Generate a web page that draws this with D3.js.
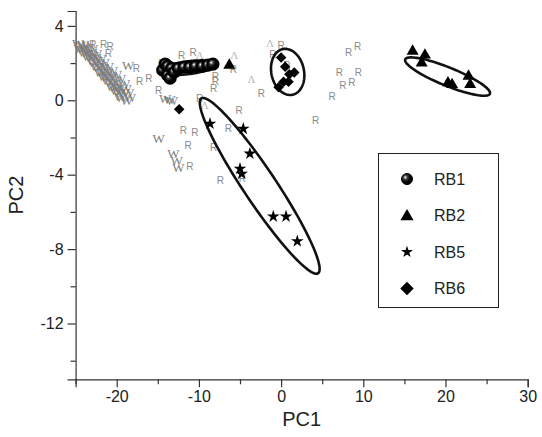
<!DOCTYPE html>
<html>
<head>
<meta charset="utf-8">
<script src="https://cdn.jsdelivr.net/npm/d3@7"></script>
<style>
    body { margin: 0; background: #fff; }
    svg { display: block; font-family: "Liberation Sans", Arial, sans-serif; }
    .gray-text { opacity: 0.99; }
</style>
</head>
<body>
<div id="chart"></div>
<script>
// 坐标轴刻度
const xTicks = [-20, -10, 0, 10, 20, 30];
const xMinor = [-25, -15, -5, 5, 15, 25];
const yTicks = [4, 0, -4, -8, -12];
const yMinor = [2, -2, -6, -10, -14];

// 灰色文字标记 (W / R / Λ)
const wPoints = [
    [-24.7, 3.07], [-24.5, 2.96], [-24.1, 3.02], [-23.9, 2.86], [-24.2, 2.75], [-23.6, 2.80],
    [-23.4, 2.64], [-23.7, 2.53], [-23.1, 2.59], [-22.9, 2.42], [-23.2, 2.32], [-22.6, 2.32],
    [-22.4, 2.16], [-22.8, 2.05], [-22.2, 2.05], [-21.9, 1.89], [-22.3, 1.78], [-21.7, 1.78],
    [-21.4, 1.62], [-21.8, 1.51], [-21.2, 1.51], [-20.9, 1.35], [-21.3, 1.24], [-20.7, 1.24],
    [-20.5, 1.08], [-20.8, 0.97], [-20.2, 0.97], [-20.0, 0.81], [-20.3, 0.70], [-19.7, 0.70],
    [-19.5, 0.54], [-19.8, 0.43], [-19.2, 0.43], [-19.0, 0.27], [-19.4, 0.16], [-18.8, 0.00],
    [-21.6, 2.05], [-21.1, 1.83], [-20.6, 1.62], [-20.1, 1.40], [-19.6, 1.19], [-19.1, 0.92],
    [-22.0, 2.26], [-22.5, 2.53], [-23.0, 2.80], [-23.5, 3.02], [-18.9, 0.65], [-18.4, 0.16],
    [-18.6, 0.43], [-19.6, 0.22], [-20.1, 0.54], [-20.6, 0.75], [-21.1, 1.08], [-21.6, 1.29],
    [-22.0, 1.51], [-22.5, 1.83], [-23.0, 2.16], [-23.5, 2.37], [-24.0, 2.59], [-24.5, 2.80],
    [-18.6, 1.89], [-14.1, 0.10], [-13.6, 0.05], [-13.3, 0.00], [-14.9, -2.06],
    [-13.1, -2.87], [-12.7, -3.23], [-12.5, -3.59]
];
const rPoints = [
    [-22.9, 3.02], [-21.6, 3.02], [-20.8, 2.91], [-21.0, 2.52], [-17.6, 1.71], [-17.2, 0.99],
    [-16.1, 1.17], [-14.9, 0.54], [-14.5, 1.98], [-12.1, 2.42], [-10.7, 2.57], [-8.6, 1.89],
    [-5.8, 1.65], [-8.0, 1.26], [-8.0, 0.99], [-8.2, 0.63], [-9.9, 0.09], [-5.1, -0.55],
    [-11.9, -1.62], [-10.5, -1.71], [-11.3, -2.42], [-6.4, -1.53], [-8.2, -2.52], [-11.1, -3.56],
    [-7.4, -4.31], [-4.7, -4.22], [-2.4, 0.39], [4.2, -1.11], [0.0, 2.96], [-1.0, 2.48],
    [0.7, 1.89], [8.2, 2.55], [9.3, 2.87], [7.1, 1.47], [9.4, 1.47], [7.5, 0.81], [8.6, 0.93],
    [6.2, 0.22]
];
const lambdaPoints = [[-9.9, 2.42], [-5.7, 2.42], [-3.6, 1.11], [-1.35, 3.05], [20.4, 0.99], [-9.3, -0.27]];

// 样品组
const seriesNames = ["RB1", "RB2", "RB5", "RB6"];
const rb1 = [
    [-14.4, 1.62], [-14.1, 1.94], [-13.8, 1.83], [-13.8, 1.35], [-13.5, 1.19], [-13.3, 1.72],
    [-13.0, 1.51], [-12.5, 1.72], [-11.8, 1.78], [-11.1, 1.78], [-10.4, 1.83], [-9.6, 1.83],
    [-8.9, 1.89], [-8.3, 1.94]
];
const rb2 = [[-6.3, 1.94], [16.0, 2.69], [17.5, 2.48], [17.1, 2.06], [20.3, 0.99], [20.8, 0.90], [22.8, 1.35], [23.0, 0.90]];
const rb5 = [[-8.65, -1.26], [-4.6, -1.53], [-3.8, -2.87], [-5.0, -3.68], [-4.8, -3.95], [-0.95, -6.25], [0.6, -6.25], [1.97, -7.58]];
const rb6 = [[-12.4, -0.48], [0.0, 2.3], [0.5, 1.8], [1.0, 1.4], [1.6, 1.5], [0.3, 1.0], [-0.3, 0.7], [0.9, 1.0]];

// 置信椭圆: 长轴两端点 与 短长轴比
const ellipseEnds = [
    [[-14.8, 1.55], [-7.8, 1.95]],
    [[0.2, 2.75], [1.4, 0.3]],
    [[-9.7, 0.1], [4.5, -9.3]],
    [[15.1, 2.2], [25.4, 0.35]]
];
const ellipseRatio = [0.22, 0.7, 0.155, 0.2];

const width = 542, height = 437;
const svg = d3.select("#chart").append("svg").attr("width", width).attr("height", height);

const x = d3.scaleLinear().domain([-25, 30]).range([75.6, 527.7]);
const y = d3.scaleLinear().domain([-15, 4.8]).range([379.3, 11]);

// 渐变 (球形标记)
const grad = svg.append("defs").append("radialGradient")
    .attr("id", "ball").attr("cx", "35%").attr("cy", "35%").attr("r", "60%");
grad.append("stop").attr("offset", "0%").attr("stop-color", "#fff");
grad.append("stop").attr("offset", "30%").attr("stop-color", "#444");
grad.append("stop").attr("offset", "70%").attr("stop-color", "#000");

// 坐标轴
svg.append("g").attr("transform", `translate(0,${y(-15)})`)
    .call(d3.axisBottom(x).tickValues(xTicks).tickSize(8).tickPadding(3).tickFormat(d3.format("d")));
svg.append("g").attr("transform", `translate(0,${y(-15)})`)
    .call(d3.axisBottom(x).tickValues(xMinor).tickSize(5).tickFormat(""))
    .select(".domain").remove();
svg.append("g").attr("transform", `translate(${x(-25)},0)`)
    .call(d3.axisLeft(y).tickValues(yTicks).tickSize(8).tickPadding(4).tickFormat(d3.format("d")));
svg.append("g").attr("transform", `translate(${x(-25)},0)`)
    .call(d3.axisLeft(y).tickValues(yMinor).tickSize(5).tickFormat(""))
    .select(".domain").remove();

svg.selectAll(".domain").attr("stroke", "#333").attr("stroke-width", 1.2);
svg.selectAll(".tick line").attr("stroke", "#333").attr("stroke-width", 1.2);
svg.selectAll(".tick text").attr("font-size", 16).attr("fill", "#222")
    .attr("font-family", "'Liberation Sans', Arial, sans-serif");
// 负号用连字符
svg.selectAll(".tick text").text(function() { return this.textContent.replace("−", "-"); });

svg.append("text").attr("x", (x(-25) + x(30)) / 2).attr("y", 426)
    .attr("text-anchor", "middle").attr("font-size", 20).attr("fill", "#222").text("PC1");
svg.append("text").attr("transform", `translate(23,${(y(-15) + y(4.8)) / 2}) rotate(-90)`)
    .attr("text-anchor", "middle").attr("font-size", 20).attr("fill", "#222").text("PC2");

// 灰色文字点
const txt = svg.append("g").attr("class", "gray-text");
txt.selectAll(".w").data(wPoints).enter().append("text")
    .attr("x", d => x(d[0])).attr("y", d => y(d[1])).attr("dy", "0.35em")
    .attr("text-anchor", "middle").attr("font-family", "'Liberation Serif', 'Times New Roman', serif")
    .attr("font-size", 13).attr("fill", "#7d7d7d").text("W");
txt.selectAll(".r").data(rPoints).enter().append("text")
    .attr("x", d => x(d[0])).attr("y", d => y(d[1])).attr("dy", "0.35em")
    .attr("text-anchor", "middle").attr("font-size", 10).attr("fill", "#8a8a8a").text("R");
txt.selectAll(".l").data(lambdaPoints).enter().append("text")
    .attr("x", d => x(d[0])).attr("y", d => y(d[1])).attr("dy", "0.35em")
    .attr("text-anchor", "middle").attr("font-family", "'Liberation Serif', serif")
    .attr("font-size", 11).attr("fill", "#b5b5b5").text("Λ");

// 椭圆
const line = d3.line().curve(d3.curveLinearClosed);
function ellipsePoints(ends, ratio) {
    const p1 = [x(ends[0][0]), y(ends[0][1])], p2 = [x(ends[1][0]), y(ends[1][1])];
    const cx = (p1[0] + p2[0]) / 2, cy = (p1[1] + p2[1]) / 2;
    const a = Math.hypot(p2[0] - p1[0], p2[1] - p1[1]) / 2, b = a * ratio;
    const ang = Math.atan2(p2[1] - p1[1], p2[0] - p1[0]);
    return d3.range(0, 2 * Math.PI, Math.PI / 60).map(t => {
        const ex = a * Math.cos(t), ey = b * Math.sin(t);
        return [cx + ex * Math.cos(ang) - ey * Math.sin(ang), cy + ex * Math.sin(ang) + ey * Math.cos(ang)];
    });
}
svg.append("g").selectAll("path").data(ellipseEnds).enter().append("path")
    .attr("d", (d, i) => line(ellipsePoints(d, ellipseRatio[i])))
    .attr("fill", "none").attr("stroke", "#111").attr("stroke-width", 2.6);

// 符号
const triangle = d3.symbol().type(d3.symbolTriangle).size(62);
const star = d3.symbol().type(d3.symbolStar).size(50);
const diamond = d3.symbol().type(d3.symbolSquare).size(55);

const marks = svg.append("g");
marks.selectAll("circle").data(rb1).enter().append("circle")
    .attr("cx", d => x(d[0])).attr("cy", d => y(d[1])).attr("r", 5.5)
    .attr("fill", "url(#ball)").attr("stroke", "#000").attr("stroke-width", 2.2);
marks.selectAll(".t").data(rb2).enter().append("path")
    .attr("d", triangle).attr("transform", d => `translate(${x(d[0])},${y(d[1]) + 1})`).attr("fill", "#000");
marks.selectAll(".s").data(rb5).enter().append("path")
    .attr("d", star).attr("transform", d => `translate(${x(d[0])},${y(d[1])})`).attr("fill", "#000");
marks.selectAll(".d").data(rb6).enter().append("path")
    .attr("d", diamond).attr("transform", d => `translate(${x(d[0])},${y(d[1])}) rotate(45)`).attr("fill", "#000");

// 图例
const legend = svg.append("g");
legend.append("rect").attr("x", 378.5).attr("y", 153.5).attr("width", 120).attr("height", 154)
    .attr("fill", "#fff").attr("stroke", "#222").attr("stroke-width", 1);
seriesNames.forEach((name, i) => {
    const ly = 179 + i * 36.5;
    if (name === "RB1") {
        legend.append("circle").attr("cx", 407).attr("cy", ly).attr("r", 5.5)
            .attr("fill", "url(#ball)").attr("stroke", "#000").attr("stroke-width", 1);
    } else if (name === "RB2") {
        legend.append("path").attr("d", d3.symbol().type(d3.symbolTriangle).size(75))
            .attr("transform", `translate(407,${ly + 1})`).attr("fill", "#000");
    } else if (name === "RB5") {
        legend.append("path").attr("d", d3.symbol().type(d3.symbolStar).size(45))
            .attr("transform", `translate(407,${ly})`).attr("fill", "#000");
    } else {
        legend.append("path").attr("d", d3.symbol().type(d3.symbolSquare).size(90))
            .attr("transform", `translate(407,${ly}) rotate(45)`).attr("fill", "#000");
    }
    legend.append("text").attr("x", 434).attr("y", ly).attr("dy", "0.36em")
        .attr("font-size", 16).attr("fill", "#222").text(name);
});
</script>
</body>
</html>
